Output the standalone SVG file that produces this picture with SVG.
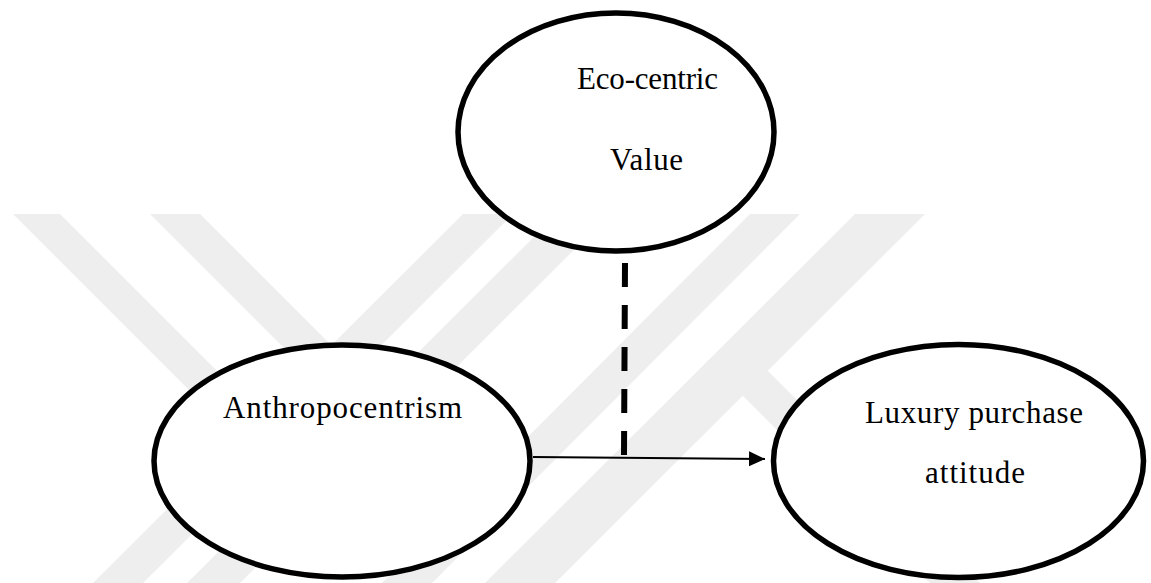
<svg xmlns="http://www.w3.org/2000/svg" width="1151" height="583" viewBox="0 0 1151 583">
  <style>
    .wm { fill: #eeeeee; }
    .node { fill: #ffffff; stroke: #000000; stroke-width: 5.5; }
    .lbl { font-family: "Liberation Serif", "DejaVu Serif", serif; font-size: 31px; fill: #000000; text-anchor: middle; }
    .edge { stroke: #000000; fill: none; }
  </style>
  <defs>
    <marker id="arrow" markerUnits="userSpaceOnUse" markerWidth="18" markerHeight="16" refX="16" refY="7.5" orient="auto">
      <path d="M0,0 L16,7.5 L0,15 Z" fill="#000000"/>
    </marker>
  </defs>
  <rect x="0" y="0" width="1151" height="583" fill="#ffffff"/>
  <g id="watermark">
    <polygon class="wm" points="13,214 60,214 310,464 263,464"/>
    <polygon class="wm" points="150,214 200,214 400,414 350,414"/>
    <polygon class="wm" points="93,583 143,583 513,214 463,214"/>
    <polygon class="wm" points="187,583 240,583 610,214 557,214"/>
    <polygon class="wm" points="382,583 432,583 800,214 750,214"/>
    <polygon class="wm" points="485,583 555,583 925,214 855,214"/>
    <polygon class="wm" points="707,360 767,370 980,583 930,583"/>
  </g>
  <g id="connectors">
    <line class="edge" x1="533" y1="457" x2="765" y2="459" stroke-width="2.2" marker-end="url(#arrow)"/>
    <line class="edge" x1="625" y1="263" x2="624" y2="455" stroke-width="6" stroke-dasharray="24 18"/>
  </g>
  <g id="node-ecocentric">
    <ellipse class="node" cx="616" cy="132" rx="158" ry="119"/>
    <text class="lbl" x="647.5" y="89" textLength="141">Eco-centric</text>
    <text class="lbl" x="646.5" y="170" textLength="73">Value</text>
  </g>
  <g id="node-anthropocentrism">
    <ellipse class="node" cx="342" cy="461" rx="188" ry="116"/>
    <text class="lbl" x="342.5" y="418" textLength="239">Anthropocentrism</text>
  </g>
  <g id="node-luxury">
    <ellipse class="node" cx="958.5" cy="461" rx="185" ry="116.5"/>
    <text class="lbl" x="974" y="423" textLength="218">Luxury purchase</text>
    <text class="lbl" x="975" y="483" textLength="100">attitude</text>
  </g>
</svg>
